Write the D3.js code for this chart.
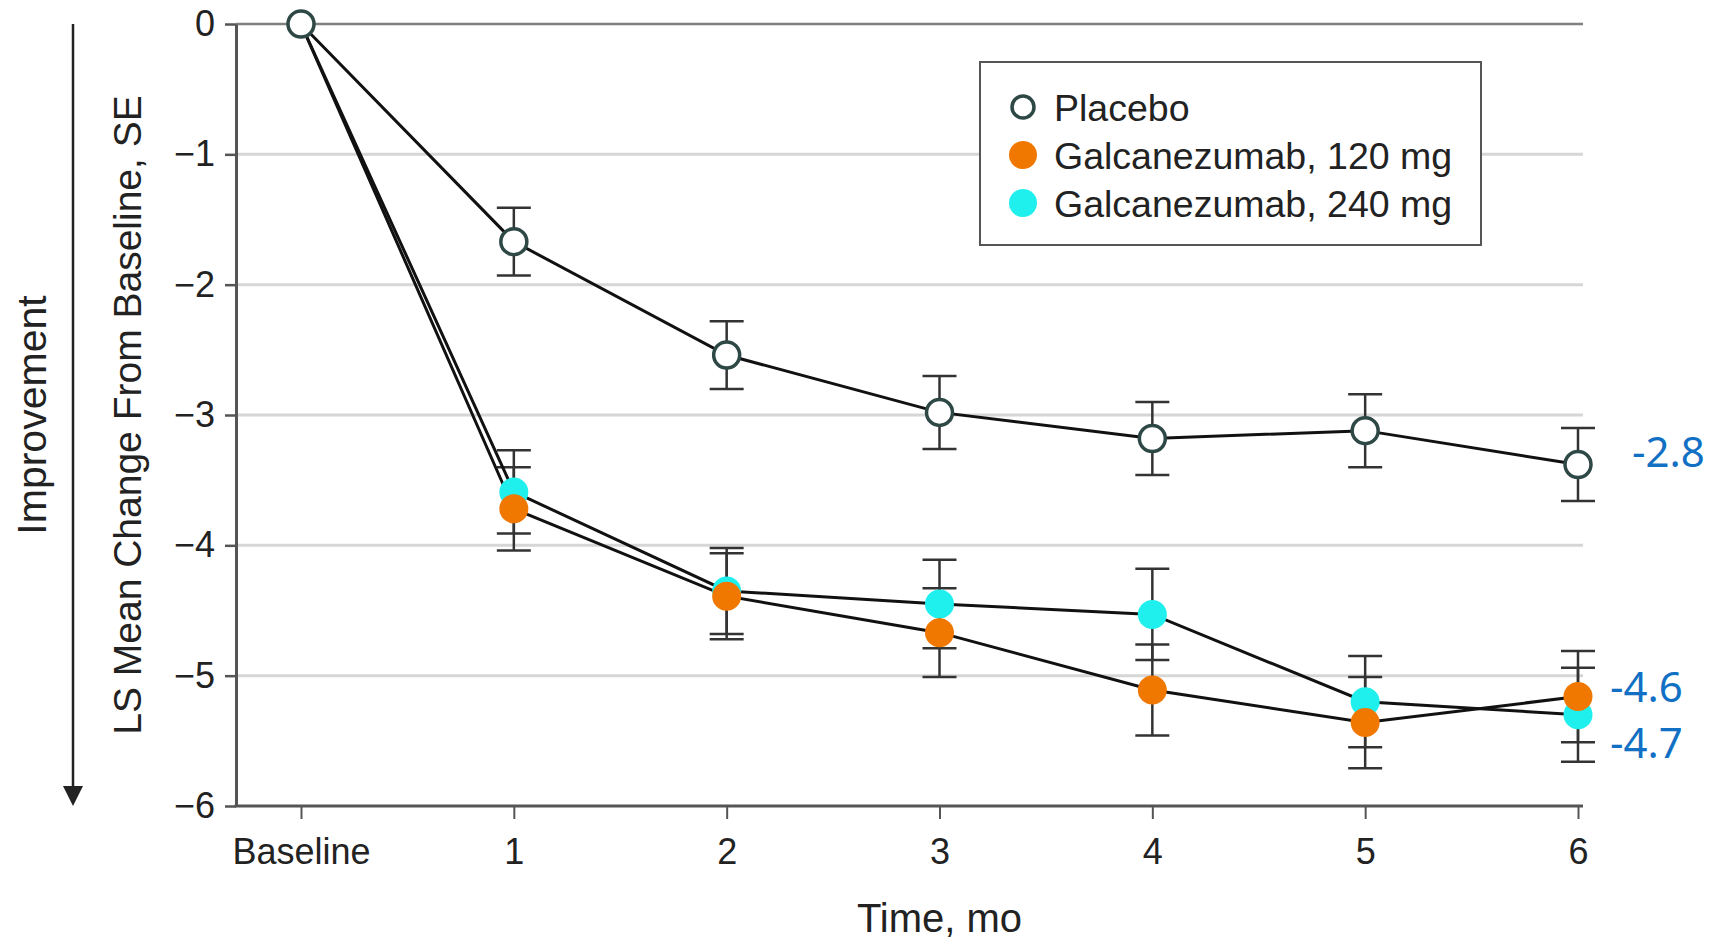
<!DOCTYPE html>
<html>
<head>
<meta charset="utf-8">
<script src="https://cdn.jsdelivr.net/npm/d3@7"></script>
<style>
  html, body { margin: 0; padding: 0; background: #fff; }
  #chart { width: 1714px; height: 942px; }
  text { font-family: "Liberation Sans", Arial, sans-serif; fill: #222; }
</style>
</head>
<body>
<div id="chart"></div>
<script>
const months = ["Baseline", "1", "2", "3", "4", "5", "6"];
const yTicks = [0, -1, -2, -3, -4, -5, -6];

const placeboMean = [0, -1.67, -2.54, -2.98, -3.18, -3.12, -3.38];
const placeboSE = [0, 0.26, 0.26, 0.28, 0.28, 0.28, 0.28];
const galc120Mean = [0, -3.72, -4.39, -4.67, -5.11, -5.36, -5.16];
const galc120SE = [0, 0.32, 0.33, 0.34, 0.35, 0.35, 0.35];
const galc240Mean = [0, -3.59, -4.35, -4.45, -4.53, -5.20, -5.30];
const galc240SE = [0, 0.32, 0.33, 0.34, 0.35, 0.35, 0.36];

const seriesNames = ["Placebo", "Galcanezumab, 120 mg", "Galcanezumab, 240 mg"];
const endLabels = ["-2.8", "-4.6", "-4.7"];
const endLabelValues = [-3.40, -5.20, -5.63];

const plot = { left: 236, right: 1583, top: 24, bottom: 806 };

const svg = d3.select("#chart")
    .append("svg")
    .attr("width", 1714)
    .attr("height", 942);

const x = d3.scalePoint().domain(months).range([301, 1578]);
const y = d3.scaleLinear().domain([0, -6]).range([plot.top, plot.bottom]);

// grid
svg.selectAll(".grid")
    .data(yTicks.filter(d => d !== 0 && d !== -6))
    .enter()
    .append("line")
    .attr("x1", plot.left).attr("x2", plot.right)
    .attr("y1", d => y(d)).attr("y2", d => y(d))
    .attr("stroke", "#d6d6d6")
    .attr("stroke-width", 3);

svg.append("line")
    .attr("x1", plot.left).attr("x2", plot.right)
    .attr("y1", y(0)).attr("y2", y(0))
    .attr("stroke", "#808080")
    .attr("stroke-width", 2.5);

// axes
const yAxis = svg.append("g")
    .attr("transform", `translate(${plot.left},0)`)
    .call(d3.axisLeft(y).tickValues(yTicks).tickFormat(d3.format("d"))
        .tickSize(11).tickSizeOuter(0).tickPadding(10));
yAxis.select(".domain").attr("stroke", "#555").attr("stroke-width", 3);
yAxis.selectAll(".tick line").attr("stroke", "#555").attr("stroke-width", 2.5);
yAxis.selectAll(".tick text").style("font-size", "36px").attr("fill", "#222");

svg.append("line")
    .attr("x1", plot.left - 1.5).attr("x2", plot.right)
    .attr("y1", plot.bottom).attr("y2", plot.bottom)
    .attr("stroke", "#555")
    .attr("stroke-width", 3);

const xAxis = svg.append("g")
    .attr("transform", `translate(0,${plot.bottom})`)
    .call(d3.axisBottom(x).tickSize(13).tickPadding(19));
xAxis.select(".domain").remove();
xAxis.selectAll(".tick line").attr("stroke", "#555").attr("stroke-width", 2);
xAxis.selectAll(".tick text").style("font-size", "36px").attr("fill", "#222");

// axis titles
svg.append("text")
    .attr("x", x("3"))
    .attr("y", 932)
    .attr("text-anchor", "middle")
    .style("font-size", "40px")
    .text("Time, mo");

svg.append("text")
    .attr("transform", `translate(141,${y(-3)})rotate(-90)`)
    .attr("text-anchor", "middle")
    .style("font-size", "39px")
    .text("LS Mean Change From Baseline, SE");

svg.append("text")
    .attr("transform", `translate(46,${y(-3)})rotate(-90)`)
    .attr("text-anchor", "middle")
    .style("font-size", "41px")
    .text("Improvement");

svg.append("line")
    .attr("x1", 73).attr("x2", 73)
    .attr("y1", y(0)).attr("y2", y(-6) - 18)
    .attr("stroke", "#222")
    .attr("stroke-width", 2.5);
svg.append("path")
    .attr("d", `M63,${y(-6) - 20} L83,${y(-6) - 20} L73,${y(-6)} Z`)
    .attr("fill", "#222");

// series
const series = [
    { name: seriesNames[0], mean: placeboMean, se: placeboSE, fill: "#fff", stroke: "#2e4846" },
    { name: seriesNames[1], mean: galc120Mean, se: galc120SE, fill: "#f07800", stroke: "none" },
    { name: seriesNames[2], mean: galc240Mean, se: galc240SE, fill: "#1ff0ee", stroke: "none" }
];

series.forEach(s => {
    const pts = months.map((m, i) => ({ m, v: s.mean[i], se: s.se[i] })).filter(p => p.se > 0);
    const g = svg.append("g");
    g.selectAll(".bar")
        .data(pts)
        .enter()
        .append("line")
        .attr("x1", d => x(d.m)).attr("x2", d => x(d.m))
        .attr("y1", d => y(d.v + d.se)).attr("y2", d => y(d.v - d.se))
        .attr("stroke", "#333").attr("stroke-width", 2.5);
    [1, -1].forEach(k => {
        g.selectAll(".cap" + k)
            .data(pts)
            .enter()
            .append("line")
            .attr("x1", d => x(d.m) - 17).attr("x2", d => x(d.m) + 17)
            .attr("y1", d => y(d.v + k * d.se)).attr("y2", d => y(d.v + k * d.se))
            .attr("stroke", "#333").attr("stroke-width", 2.5);
    });
});

const line = d3.line().x((d, i) => x(months[i])).y(d => y(d));
series.forEach(s => {
    svg.append("path")
        .attr("d", line(s.mean))
        .attr("fill", "none")
        .attr("stroke", "#111")
        .attr("stroke-width", 3);
});

[series[2], series[1], series[0]].forEach(s => {
    const isPlacebo = s === series[0];
    svg.append("g")
        .selectAll("circle")
        .data(months.map((m, i) => ({ m, v: s.mean[i] })).filter((d, i) => isPlacebo || i > 0))
        .enter()
        .append("circle")
        .attr("cx", d => x(d.m))
        .attr("cy", d => y(d.v))
        .attr("r", isPlacebo ? 13 : 14.5)
        .attr("fill", s.fill)
        .attr("stroke", s.stroke)
        .attr("stroke-width", 3.5);
});

// end labels
svg.selectAll(".endlabel")
    .data(endLabels)
    .enter()
    .append("text")
    .attr("x", (d, i) => i === 0 ? 1632 : 1610)
    .attr("y", (d, i) => y(endLabelValues[i]))
    .style("font-family", "'Noto Sans', 'Open Sans', sans-serif")
    .style("font-size", "42px")
    .style("fill", "#1170c4")
    .text(d => d);

// legend
const legend = svg.append("g").attr("transform", "translate(980,62)");
legend.append("rect")
    .attr("width", 501).attr("height", 183)
    .attr("fill", "#fff")
    .attr("stroke", "#555")
    .attr("stroke-width", 2);
const item = legend.selectAll(".item")
    .data(series)
    .enter()
    .append("g")
    .attr("transform", (d, i) => `translate(43,${45 + i * 48})`);
item.append("circle")
    .attr("r", (d, i) => i === 0 ? 11 : 14)
    .attr("fill", d => d.fill)
    .attr("stroke", d => d.stroke)
    .attr("stroke-width", 3.5);
item.append("text")
    .attr("x", 31)
    .attr("dy", "0.36em")
    .style("font-size", "37.5px")
    .text(d => d.name);
</script>
</body>
</html>
